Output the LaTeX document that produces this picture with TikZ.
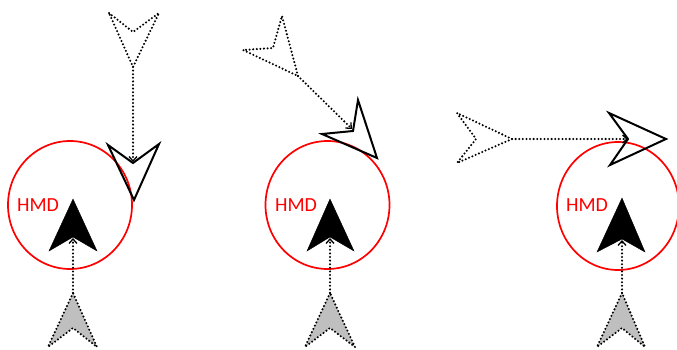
\documentclass[tikz,border=0pt]{standalone}
\usepackage{fontspec}
\setmainfont{Carlito}
\usetikzlibrary{arrows.meta}

\tikzset{
  hmd/.style={draw=red, line width=1.7pt},
  hmdlabel/.style={text=red, font=\fontsize{20}{20}\selectfont, inner sep=0pt},
  ghost/.style={line width=2.3pt, line cap=round, dash pattern=on 0pt off 3.6pt, line join=round},
  moved/.style={line width=2pt, line join=miter},
  trail/.style={ghost, -{Straight Barb[length=4.5pt, width=8pt, line width=1.3pt]}},
}

\begin{document}
\begin{tikzpicture}[x=1pt, y=-1pt]
\useasboundingbox (0,0) rectangle (677,350);

% PANEL 1: moving straight down
  \draw[hmd] (70,205) ellipse (62 and 64);
  \node[hmdlabel] (hmd1) at (38,205) {HMD};
  \filldraw[black] (73,199) -- (49,251) -- (73,237) -- (97,251) -- cycle; % user
  \coordinate (u1) at (73,238);
  \filldraw[fill=black!25, ghost] (73,293) -- (48,347) -- (73,328) -- (97,347) -- cycle; % old user
  \coordinate (o1) at (73,293);
  \draw[ghost] (109,13) -- (133,32) -- (159,13) -- (133,67) -- cycle; % old object
  \coordinate (a1) at (133,67);
  \draw[moved] (108,145) -- (133,163) -- (159,144) -- (134,200) -- cycle; % object
  \coordinate (b1) at (133,162);
  \draw[trail] (a1) -- (b1); % object -> object
  \draw[trail] (o1) -- (u1); % user -> user

% PANEL 2: moving down-right
  \draw[hmd] (327.5,205) ellipse (62 and 64);
  \node[hmdlabel] (hmd2) at (296,205) {HMD};
  \filldraw[black] (330,199) -- (307,251) -- (330,237) -- (354,251) -- cycle; % user
  \coordinate (u2) at (330,238);
  \filldraw[fill=black!25, ghost] (330,293) -- (305,347) -- (330,328) -- (355,347) -- cycle; % old user
  \coordinate (o2) at (330,293);
  \draw[ghost] (298,76) -- (282,16) -- (273,48) -- (243,50) -- cycle; % old object
  \coordinate (a2) at (298,76);
  \draw[moved] (377,158) -- (358,100) -- (353,131) -- (322,134) -- cycle; % object
  \coordinate (b2) at (352,129);
  \draw[trail] (a2) -- (b2); % object -> object
  \draw[trail] (o2) -- (u2); % user -> user

% PANEL 3: moving right
  \draw[hmd] (618,206) ellipse (61 and 64);
  \node[hmdlabel] (hmd3) at (587,205) {HMD};
  \filldraw[black] (622,198) -- (597,252) -- (622,239) -- (645,252) -- cycle; % user
  \coordinate (u3) at (622,240);
  \filldraw[fill=black!25, ghost] (622,293) -- (597,347) -- (622,328) -- (645,347) -- cycle; % old user
  \coordinate (o3) at (622,293);
  \draw[ghost] (512,139) -- (457,113) -- (476,139) -- (457,163) -- cycle; % old object
  \coordinate (a3) at (512,139);
  \draw[moved] (666,139) -- (609,113) -- (628,139) -- (610,165) -- cycle; % object
  \coordinate (b3) at (628,139);
  \draw[trail] (a3) -- (b3); % object -> object
  \draw[trail] (o3) -- (u3); % user -> user
\end{tikzpicture}
\end{document}
